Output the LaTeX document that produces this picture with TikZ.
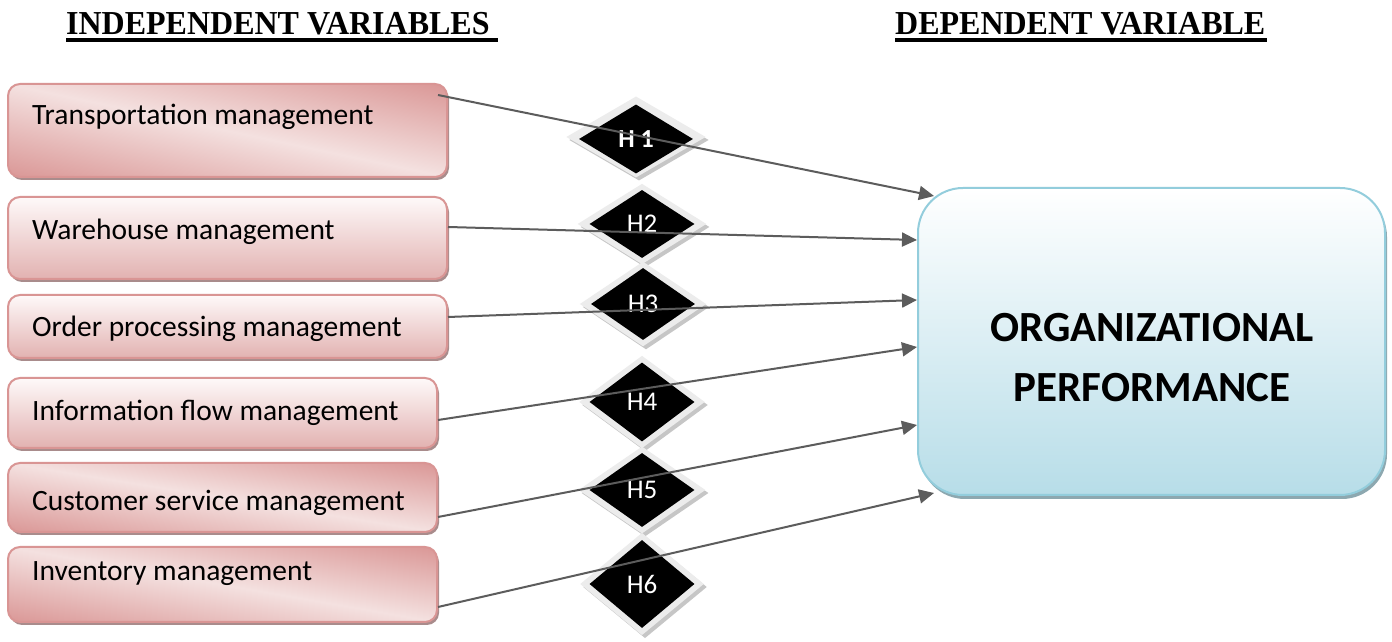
\documentclass[tikz,border=0pt]{standalone}
\usepackage{fontspec}
\setmainfont{Carlito}
\newfontfamily\headfont{Liberation Serif}
\usetikzlibrary{shapes.geometric,arrows.meta,calc,shadows}

\definecolor{pkborder}{HTML}{D99594}
\definecolor{pktop}{HTML}{FEF9F9}
\definecolor{pkbottom}{HTML}{E2B2B1}
\definecolor{pkshadow}{HTML}{A98C8C}
\definecolor{blborder}{HTML}{93CDDC}
\definecolor{blbottom}{HTML}{B7DDE8}
\definecolor{blshadow}{HTML}{8DA8B0}
\definecolor{halo}{HTML}{ECECEC}
\definecolor{haloshadow}{HTML}{C6C6C6}
\definecolor{linkgray}{HTML}{5C5C5C}

% diagonal pink gradient: dark at the top-right and bottom-left corners,
% light along the other diagonal; stretched to the box it fills
\pgfdeclarefunctionalshading{pkdiag}{\pgfpoint{0bp}{0bp}}{\pgfpoint{100bp}{100bp}}{}{
  add 100 sub abs 50 div dup 1 gt {pop 1} if
  dup -0.102 mul 0.957 add exch
  dup -0.290 mul 0.882 add exch
  -0.290 mul 0.878 add
}

\newcommand{\headtext}[1]{\scalebox{0.955}[1]{#1}}

\tikzset{
  varbox/.style 2 args={draw=pkborder, line width=2pt, rounded corners=12pt,
    minimum width=#1, minimum height=#2, inner sep=0pt,
    drop shadow={shadow xshift=2pt, shadow yshift=-3pt, fill=pkshadow, opacity=1}},
  vshade/.style={top color=pktop, bottom color=pkbottom},
  dshade/.style={shade, shading=pkdiag},
  boxtext/.style={anchor=base west, inner sep=0pt, font=\fontsize{29.5}{35}\selectfont},
  heading/.style={anchor=base west, inner sep=0pt, font=\headfont\bfseries\fontsize{33.5}{40}\selectfont},
  underline/.style={line width=3.4pt},
  hshad/.style 2 args={diamond, fill=haloshadow, draw=haloshadow, line width=16pt,
    minimum width=#1, minimum height=#2, inner sep=0pt},
  hhalo/.style 2 args={diamond, fill=halo, draw=halo, line width=16pt,
    minimum width=#1, minimum height=#2, inner sep=0pt},
  hcore/.style 2 args={diamond, fill=black, text=white, minimum width=#1, minimum height=#2,
    inner sep=0pt, font=\fontsize{27}{30}\selectfont},
  orgbox/.style={draw=blborder, line width=2pt, rounded corners=45pt,
    minimum width=467pt, minimum height=307pt, inner sep=0pt,
    top color=white, bottom color=blbottom,
    drop shadow={shadow xshift=2pt, shadow yshift=-4pt, fill=blshadow, opacity=1}},
  orgtext/.style={anchor=base, inner sep=0pt, font=\bfseries\fontsize{43}{48}\selectfont},
  conn/.style={draw=linkgray, line width=2pt, -{Triangle[length=15pt,width=14pt]}},
}

\begin{document}
\begin{tikzpicture}[x=1pt,y=1pt]
\useasboundingbox[fill=white] (0,0) rectangle (1392,642);

% column headings
\node[heading] (indep) at (66,607) {\headtext{INDEPENDENT VARIABLES\kern9pt}};
\draw[underline] ($(indep.base west)+(0,-5)$) -- ($(indep.base east)+(0,-5)$);
\node[heading] (dep) at (895,607) {\headtext{DEPENDENT VARIABLE\kern2pt}};
\draw[underline] ($(dep.base west)+(0,-5)$) -- ($(dep.base east)+(0,-5)$);

% independent variable boxes
\node[varbox={439pt}{93pt}, dshade] (b1) at (227.5,511.5) {};
\node[varbox={439pt}{82pt}, vshade] (b2) at (227.5,404) {};
\node[varbox={439pt}{63pt}, vshade] (b3) at (227.5,315.5) {};
\node[varbox={429pt}{70pt}, vshade] (b4) at (222.5,229) {};
\node[varbox={429pt}{69pt}, dshade] (b5) at (222.5,144.5) {};
\node[varbox={429pt}{75pt}, dshade] (b6) at (222.5,57.5) {};

\node[boxtext] (t1) at (32,517) {Transportation management};
\node[boxtext] (t2) at (32,402) {Warehouse management};
\node[boxtext] (t3) at (32,305) {Order processing management};
\node[boxtext] (t4) at (32,221) {Information flow management};
\node[boxtext] (t5) at (32,131) {Customer service management};
\node[boxtext] (t6) at (32,61) {Inventory management};

% hypothesis diamonds
\node[hshad={114pt}{69pt}] (h1s) at (639,502) {};
\node[hhalo={114pt}{69pt}] (h1h) at (636,505) {};
\node[hcore={114pt}{69pt}, font=\bfseries\fontsize{26}{30}\selectfont] (h1) at (636,503) {H 1};

\node[hshad={105pt}{68pt}] (h2s) at (645,415) {};
\node[hhalo={105pt}{68pt}] (h2h) at (642,418) {};
\node[hcore={105pt}{68pt}] (h2) at (642,418) {H2};

\node[hshad={104pt}{72pt}] (h3s) at (646,335) {};
\node[hhalo={104pt}{72pt}] (h3h) at (643,338) {};
\node[hcore={104pt}{72pt}] (h3) at (643,338) {H3};

\node[hshad={105pt}{79pt}] (h4s) at (645,237) {};
\node[hhalo={105pt}{79pt}] (h4h) at (642,240) {};
\node[hcore={105pt}{79pt}] (h4) at (642,240) {H4};

\node[hshad={105pt}{74pt}] (h5s) at (645,149) {};
\node[hhalo={105pt}{74pt}] (h5h) at (642,152) {};
\node[hcore={105pt}{74pt}] (h5) at (642,152) {H5};

\node[hshad={105pt}{88pt}] (h6s) at (645,55) {};
\node[hhalo={105pt}{88pt}] (h6h) at (642,58) {};
\node[hcore={105pt}{88pt}] (h6) at (642,58) {H6};

% dependent variable
\node[orgbox] (org) at (1151.5,300.5) {};
\node[orgtext] (org1) at (1152,300) {ORGANIZATIONAL};
\node[orgtext] (org2) at (1152,240) {PERFORMANCE};

% hypothesised links
\draw[conn] ($(b1.north east)+(-10,-12)$) -- ($(org.north west)+(17,-9)$);
\draw[conn] ($(b2.east)+(0,11)$) -- ($(org.west)+(0,101.5)$);
\draw[conn] ($(b3.east)+(0,9.5)$) -- ($(org.west)+(0,41.5)$);
\draw[conn] ($(b4.east)+(0,-7)$) -- ($(org.west)+(0,-5.5)$);
\draw[conn] ($(b5.east)+(0,-19.5)$) -- ($(org.west)+(0,-83.5)$);
\draw[conn] ($(b6.east)+(0,-22.5)$) -- ($(org.south west)+(17,3)$);
\end{tikzpicture}
\end{document}
